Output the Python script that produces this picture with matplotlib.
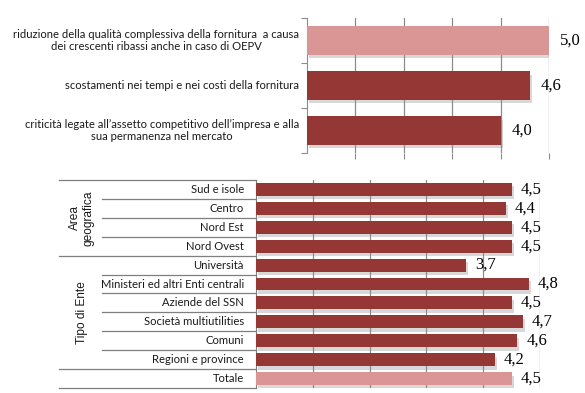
import matplotlib
matplotlib.use("Agg")
import matplotlib.pyplot as plt
import matplotlib.patheffects as pe
from matplotlib.lines import Line2D

# ---------------- data ----------------
top_labels = [
    "riduzione della qualità complessiva della fornitura  a causa\ndei crescenti ribassi anche in caso di OEPV",
    "scostamenti nei tempi e nei costi della fornitura",
    "criticità legate all\u2019assetto competitivo dell\u2019impresa e alla\nsua permanenza nel mercato",
]
top_values = [5.0, 4.6, 4.0]
top_highlight = [True, False, False]

bottom_labels = ["Sud e isole", "Centro", "Nord Est", "Nord Ovest", "Università",
                 "Ministeri ed altri Enti centrali", "Aziende del SSN",
                 "Società multiutilities", "Comuni", "Regioni e province", "Totale"]
bottom_values = [4.5, 4.4, 4.5, 4.5, 3.7, 4.8, 4.5, 4.7, 4.6, 4.2, 4.5]
bottom_highlight = [False] * 10 + [True]

group_labels = ["Area\ngeografica", "Tipo di Ente"]

DARK = "#953735"
LIGHT = "#D99694"
GRID = "#8C8C8C"
LINE = "#7F7F7F"
W, H = 585, 393

fig = plt.figure(figsize=(W / 100, H / 100), dpi=100)
fig.patch.set_facecolor("white")

def fx(px):
    return px / W

def fy(py):
    return 1 - py / H

label_font = dict(family=["Lato", "DejaVu Sans"], fontsize=8.1, color="#1a1a1a")
value_font = dict(family=["Liberation Serif", "DejaVu Serif"], fontsize=12, color="black")
shadow = [pe.SimplePatchShadow(offset=(1.5, -2.5), shadow_rgbFace="#909090", alpha=0.35), pe.Normal()]

# ---------------- top chart ----------------
ax1 = fig.add_axes([fx(307), fy(153), fx(549) - fx(307), fy(18) - fy(153)])
y1 = list(range(len(top_values)))
bars = ax1.barh(y1, top_values, height=0.64,
                color=[LIGHT if h else DARK for h in top_highlight], zorder=3)
for b in bars:
    b.set_path_effects(shadow)
ax1.set_xlim(0, 5)
ax1.set_ylim(len(top_values) - 0.5, -0.5)
ax1.set_xticks([1, 2, 3, 4, 5])
ax1.xaxis.grid(True, color=GRID, linewidth=0.9, zorder=0)
ax1.tick_params(axis="x", length=4, color=GRID, labelbottom=False, direction="out")
ax1.set_yticks([i - 0.5 for i in range(len(top_values) + 1)])
ax1.tick_params(axis="y", length=4, color=GRID, labelleft=False, direction="out")
for s in ["top", "right", "bottom"]:
    ax1.spines[s].set_visible(False)
ax1.spines["left"].set_color(GRID)
for i, (lab, v) in enumerate(zip(top_labels, top_values)):
    ax1.annotate(lab, (0, i), xytext=(-8, 0), textcoords="offset pixels",
                 ha="right", va="center", multialignment="center", **label_font)
    ax1.annotate(f"{v:.1f}".replace(".", ","), (v, i), xytext=(11, 0),
                 textcoords="offset pixels", ha="left", va="center", **value_font)

# ---------------- bottom chart ----------------
ax2 = fig.add_axes([fx(256), fy(388), fx(540) - fx(256), fy(180) - fy(388)])
y2 = list(range(len(bottom_values)))
bars2 = ax2.barh(y2, bottom_values, height=0.68,
                 color=[LIGHT if h else DARK for h in bottom_highlight], zorder=3)
for b in bars2:
    b.set_path_effects(shadow)
ax2.set_xlim(0, 5)
ax2.set_ylim(len(bottom_values) - 0.5, -0.5)
ax2.set_xticks([1, 2, 3, 4, 5])
ax2.xaxis.grid(True, color=GRID, linewidth=0.9, zorder=0)
ax2.tick_params(axis="x", length=0, labelbottom=False)
ax2.set_yticks([])
for s in ["top", "right", "bottom"]:
    ax2.spines[s].set_visible(False)
ax2.spines["left"].set_color(LINE)
for i, (lab, v) in enumerate(zip(bottom_labels, bottom_values)):
    ax2.annotate(lab, (0, i), xytext=(-12, 0), textcoords="offset pixels",
                 ha="right", va="center", **label_font)
    ax2.annotate(f"{v:.1f}".replace(".", ","), (v, i), xytext=(9, 0),
                 textcoords="offset pixels", ha="left", va="center", **value_font)

# table lines
row_h = (388 - 180) / len(bottom_values)
outer = {0, 4, 10, 11}
for k in range(len(bottom_values) + 1):
    yy = 180 + k * row_h
    x0 = 59 if k in outer else 102
    fig.add_artist(Line2D([fx(x0), fx(256)], [fy(yy), fy(yy)], color=LINE, linewidth=0.9))

grp_font = dict(family=["Liberation Sans", "DejaVu Sans"], fontsize=8.6, color="#1a1a1a")
fig.text(fx(82), fy(180 + 2 * row_h), group_labels[0], rotation=90, ha="center", va="center",
         multialignment="center", **grp_font)
fig.text(fx(82), fy(180 + 7 * row_h), group_labels[1], rotation=90, ha="center", va="center",
         **grp_font)

fig.savefig("out.png", dpi=100, facecolor="white")
